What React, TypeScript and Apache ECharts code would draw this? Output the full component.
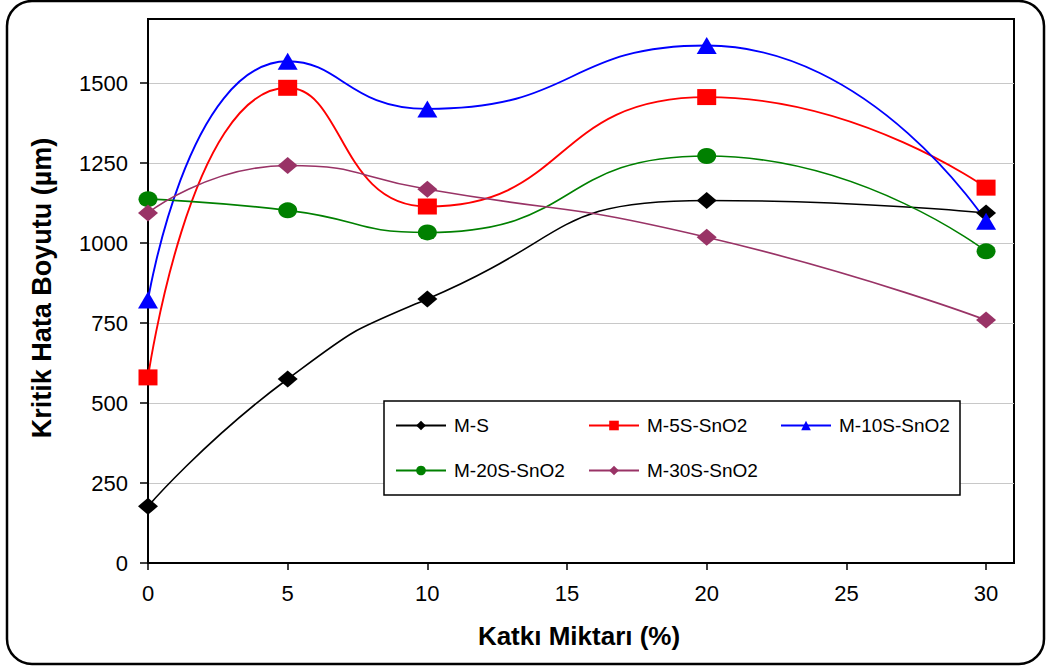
import React, { useEffect, useRef } from "react";
import * as echarts from "echarts";

// Katkı miktarı (%) values on the x axis
const additive = [0, 5, 10, 20, 30];

// Critical flaw size (µm) for each mixture
const seriesNames = ["M-S", "M-5S-SnO2", "M-10S-SnO2", "M-20S-SnO2", "M-30S-SnO2"];
const msValues = [177, 575, 825, 1133, 1094];
const m5sValues = [580, 1485, 1114, 1456, 1173];
const m10sValues = [822, 1568, 1419, 1617, 1068];
const m20sValues = [1137, 1102, 1033, 1272, 974];
const m30sValues = [1094, 1242, 1168, 1018, 759];

const xTicks = [0, 5, 10, 15, 20, 25, 30];
const yTicks = [0, 250, 500, 750, 1000, 1250, 1500];

const colors = ["#000000", "#FF0000", "#0000FF", "#008000", "#993366"];
const symbols = ["diamond", "rect", "triangle", "circle", "diamond"];
const symbolSizes: any[] = [[20, 17], [19, 16], [20, 17], [19, 16], [20, 17]];

const FONT = "'Liberation Sans', Arial, sans-serif";

export default function App() {
  const ref = useRef<HTMLDivElement>(null);

  useEffect(() => {
    if (!ref.current) return;
    const chart = echarts.init(ref.current, undefined, { renderer: "svg" });
    const allValues = [msValues, m5sValues, m10sValues, m20sValues, m30sValues];

    const series = seriesNames.map((name, i) => ({
      name,
      type: "line",
      smooth: 0.55,
      data: additive.map((x, k) => [x, allValues[i][k]]),
      symbol: symbols[i],
      symbolSize: symbolSizes[i],
      showAllSymbol: true,
      lineStyle: { color: colors[i], width: i === 0 || i === 3 || i === 4 ? 1.6 : 1.9 },
      itemStyle: { color: colors[i], borderWidth: 0 },
      emphasis: { disabled: true },
    }));

    // legend entries laid out in a 3 + 2 grid
    const legendPos = [
      [395, 416],
      [588, 416],
      [780, 416],
      [395, 461],
      [588, 461],
    ];
    const legends = seriesNames.map((name, i) => ({
      data: [name],
      left: legendPos[i][0],
      top: legendPos[i][1],
      padding: 0,
      itemWidth: 50,
      itemHeight: 12,
      itemGap: 0,
      selectedMode: false,
      textStyle: { fontFamily: FONT, fontSize: 19, color: "#000", padding: [0, 0, 0, 3] },
    }));

    chart.setOption({
      animation: false,
      backgroundColor: "#ffffff",
      grid: {
        left: 148,
        top: 19,
        width: 866,
        height: 544,
        show: true,
        borderColor: "#000",
        borderWidth: 2,
        containLabel: false,
      },
      legend: legends,
      xAxis: {
        type: "value",
        min: 0,
        max: 31,
        interval: 5,
        axisLine: { show: true, onZero: false, lineStyle: { color: "#000", width: 2 } },
        axisTick: {
          show: true,
          inside: false,
          length: 7,
          customValues: xTicks,
          lineStyle: { color: "#000", width: 1.5 },
        },
        axisLabel: {
          customValues: xTicks,
          margin: 19,
          fontFamily: FONT,
          fontSize: 22,
          color: "#000",
          formatter: (v: number) => String(v),
        },
        splitLine: { show: false },
      },
      yAxis: {
        type: "value",
        min: 0,
        max: 1700,
        interval: 250,
        axisLine: { show: true, lineStyle: { color: "#000", width: 2 } },
        axisTick: {
          show: true,
          inside: false,
          length: 8,
          customValues: yTicks,
          lineStyle: { color: "#000", width: 1.5 },
        },
        axisLabel: {
          customValues: yTicks,
          margin: 20,
          fontFamily: FONT,
          fontSize: 22,
          color: "#000",
          formatter: (v: number) => String(v),
        },
        splitLine: { show: true, lineStyle: { color: "#c8c8c8", width: 1.2 } },
      },
      graphic: [
        {
          type: "rect",
          z: 0,
          silent: true,
          shape: { x: 7, y: 1, width: 1037, height: 663, r: 25 },
          style: { fill: "none", stroke: "#000", lineWidth: 2.5 },
        },
        {
          type: "rect",
          z: 1,
          silent: true,
          shape: { x: 384, y: 401, width: 576, height: 94 },
          style: { fill: "#fff", stroke: "#000", lineWidth: 1.5 },
        },
        {
          type: "text",
          silent: true,
          x: 42,
          y: 288,
          rotation: Math.PI / 2,
          style: {
            text: "Kritik Hata Boyutu (µm)",
            fontFamily: FONT,
            fontSize: 27,
            fontWeight: "bold",
            fill: "#000",
            align: "center",
            verticalAlign: "middle",
          },
        },
        {
          type: "text",
          silent: true,
          x: 579,
          y: 636,
          style: {
            text: "Katkı Miktarı (%)",
            fontFamily: FONT,
            fontSize: 26,
            fontWeight: "bold",
            fill: "#000",
            align: "center",
            verticalAlign: "middle",
          },
        },
      ],
      series,
    });

    return () => chart.dispose();
  }, []);

  return (
    <div
      ref={ref}
      style={{ position: "fixed", left: 0, top: 0, width: 1046, height: 668 }}
    />
  );
}
